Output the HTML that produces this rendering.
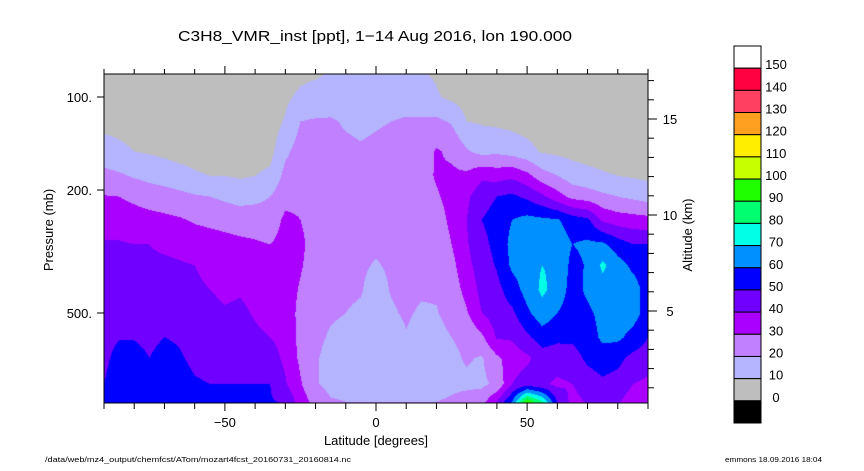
<!DOCTYPE html>
<html><head><meta charset="utf-8"><style>
html,body{margin:0;padding:0;background:#fff;}
#wrap{position:relative;width:864px;height:471px;overflow:hidden;}
canvas{position:absolute;left:104px;top:74px;}
svg{position:absolute;left:0;top:0;}
text{font-family:"Liberation Sans",sans-serif;fill:#000;}
</style></head><body>
<div id="wrap">
<canvas id="field" width="544" height="329"></canvas>
<svg id="svg" width="864" height="471">
<text x="375" y="41" font-size="15" text-anchor="middle" textLength="394" lengthAdjust="spacingAndGlyphs">C3H8_VMR_inst [ppt], 1−14 Aug 2016, lon 190.000</text>
<text transform="translate(53,230) rotate(-90)" font-size="13" text-anchor="middle">Pressure (mb)</text>
<text transform="translate(692,235) rotate(-90)" font-size="13" text-anchor="middle">Altitude (km)</text>
<text x="376" y="445" font-size="13" text-anchor="middle">Latitude [degrees]</text>
<text x="45" y="462" font-size="7.5" textLength="306" lengthAdjust="spacingAndGlyphs">/data/web/mz4_output/chemfcst/ATom/mozart4fcst_20160731_20160814.nc</text>
<text x="725" y="462" font-size="7.5" textLength="97" lengthAdjust="spacingAndGlyphs">emmons 18.09.2016 18:04</text>
<g id="axes"></g>
<g id="cbar"></g>
</svg>
</div>
<script>
// Grid data: latitudes, pressure levels (mb), values (ppt) rows = lat columns
const lats = [-90,-85,-80,-75,-70,-65,-60,-55,-50,-45,-40,-35,-30,-25,-20,-15,-10,-5,0,5,10,15,20,25,30,35,40,45,50,55,60,65,70,75,80,85,90];
const levels = [85,100,120,150,180,210,250,300,350,420,500,600,700,850,1000];
const values = [
[3,5,7,14,23,30.5,35,41,42,44,45,47,48,50,52],
[3,5,7,12,21.5,30,35,41,43,45,47,49.5,53,55,56],
[3,4,6,10,19,28,34,40,42,45,47,49.5,53,55,56],
[3,4,6,9,17,26,33,40,42,44,46,48,50,53,55],
[3,4,5,8,15,25,32,38,42,44,47,50,53,55,56],
[3,4,5,7,13,23,31,37,41,43,46,49,51,54,55],
[3,4,5,7,11,21,29,35,40,42,44,46,48,51,53],
[3,4,5,6,10,20,28,34,37,40,43,45,47,50,52],
[3,4,5,6,10,18,27,33,35,38,41,44,47,50,52],
[3,4,5,6,9,16,26,32,34,39,42,45,47,50,52],
[3,4,5,6,10,17,26,31,34,37,39,42,45,50,52],
[3,4,5,7,12,20,25,30,32,34,36,40,44,50,51],
[5,8,11,18,23,27,32,33,34,35,36,37,38,41,51],
[8,12,20,24,26,28,30,32,31,29,27,27,28,31,36],
[9,14,21,24,25,26,26,26,25,24,23,22,21,21,28],
[11,15,21,23,24,24,24,24,23,22,21,19,17,17,22],
[12,15,19,22,23,23,23,23,22,21,20,18,16,16,21],
[12,14,18,21,22,23,23,22,21,20.5,19,17,15,16,21],
[13,15,19,22,23,23,22,21,19.5,17,16,15,15,16,21],
[13,15,20,23,24,24,23,22,21,20.5,19,16,15,16,21],
[12,16,21,24,25,25,25,24,23,22,21,19.5,16,16,21],
[11,15,21,25,26,26,25,24,23,21,19,17,16,16,21],
[9,11,22,31,31,29,26,24,22,21,19.5,17,16,16,21],
[5,8,19,28,32,33,32,30,27,25,23,20,18,18,22],
[4,6,10,21,32,38,40,39,37,33,29,22,21,18,25],
[4,5,9,17,38,46,50,47,45,43,40,28,19,18,28],
[3,4,8,18,36,50,54,53,51,47,45,41,28,22,45],
[3,4,7,16,38,52,60,63,62,55,48,41,35,40,65],
[3,4,6,13,33,48,63,66,66,64,58,48,38,45,110],
[3,4,5,9,24,42,62,67,70,72,66,55,45,42,90],
[3,4,5,8,20,34,61,66,68,66,60,52,45,38,52],
[3,4,5,7,15,27,55,60,57,56,55,52,46,40,36],
[3,4,5,6,13,25,52,62,61,62,58,55,52,45,40],
[3,4,5,6,11,22,38,62,72,66,63,62,55,48,42],
[3,4,5,6,10,20,35,55,64,65,64,62,53,46,40],
[3,4,5,6,9,18,34,50,58,64,64,57,47,40,34],
[3,4,5,6,8,16,33,50,55,56,56,50,45,38,33]
];
const cbarLabels = ["150","140","130","120","110","100","90","80","70","60","50","40","30","20","10","0"];
const pTicks = [100,200,500];
const pTickLabels = ["100.","200.","500."];
const latTicks = [-50,0,50];
const altMajor = [5,10,15];

const bandColors = ["#000000","#bebebe","#b4b4ff","#c080ff","#aa00ff","#7000ff","#0000ff","#0090ff","#00ffe6","#00ff70","#20ff00","#c8ff00","#ffee00","#ffa020","#ff4060","#ff0040","#ffffff"];

const X0=104,X1=648,Y0=74,Y1=403;
function xOf(lat){return X0+(lat+90)/180*(X1-X0);}
function yOf(p){return 97+309*Math.log10(p/100);}
function altY(z){return 215-(z-10)*19.2;}
function colorFor(v){
  if(v<0) return bandColors[0];
  let i=Math.floor(v/10)+1; if(i>16)i=16; return bandColors[i];
}
function hex(c){return [parseInt(c.substr(1,2),16),parseInt(c.substr(3,2),16),parseInt(c.substr(5,2),16)];}

const cv=document.getElementById('field'),ctx=cv.getContext('2d');
const W=cv.width,H=cv.height,img=ctx.createImageData(W,H);
const rowY=levels.map(yOf);
for(let py=0;py<H;py++){
  const y=Y0+py+0.5;
  let r=0; while(r<rowY.length-2 && y>rowY[r+1]) r++;
  let ty=(y-rowY[r])/(rowY[r+1]-rowY[r]); ty=Math.max(0,Math.min(1,ty));
  for(let px=0;px<W;px++){
    const lat=-90+(px+0.5)/W*180;
    let c=Math.floor((lat+90)/5); if(c>lats.length-2)c=lats.length-2;
    const tx=(lat-lats[c])/(lats[c+1]-lats[c]);
    const a=values[c][r],b=values[c+1][r],d=values[c][r+1],e=values[c+1][r+1];
    const v=(a*(1-tx)+b*tx)*(1-ty)+(d*(1-tx)+e*tx)*ty;
    const rgb=hex(colorFor(v)); const k=(py*W+px)*4;
    img.data[k]=rgb[0];img.data[k+1]=rgb[1];img.data[k+2]=rgb[2];img.data[k+3]=255;
  }
}
ctx.putImageData(img,0,0);

const NS='http://www.w3.org/2000/svg';
function mk(tag,attrs,parent){const el=document.createElementNS(NS,tag);for(const k in attrs)el.setAttribute(k,attrs[k]);parent.appendChild(el);return el;}
const axes=document.getElementById('axes');
const frame=mk('rect',{x:X0,y:Y0,width:X1-X0,height:Y1-Y0,fill:'none',stroke:'#000','stroke-width':1},axes);


for(let lat=-90;lat<=90;lat+=10){
  const x=xOf(lat),maj=lat%50===0;
  const t1=mk('line',{x1:x,x2:x,y1:Y1,y2:Y1+(maj?8:6),stroke:'#000'},axes);
  
  
  const t2=mk('line',{x1:x,x2:x,y1:Y0,y2:Y0-(maj?8:5),stroke:'#000'},axes);
  
  
}
latTicks.forEach(l=>{
  const t=mk('text',{x:xOf(l),y:427,'font-size':13,'text-anchor':'middle'},axes);
  t.textContent=l<0?('−'+(-l)):String(l);
  
  
});
pTicks.forEach((p,i)=>{
  const y=yOf(p);
  const l=mk('line',{x1:X0-7,x2:X0,y1:y,y2:y,stroke:'#000'},axes);
  
  
  const t=mk('text',{x:92,y:y+5,'font-size':13,'text-anchor':'end'},axes);
  t.textContent=pTickLabels[i];
  
  
});
for(let z=1;z<=17;z++){
  const y=altY(z),maj=altMajor.indexOf(z)>=0;
  const l=mk('line',{x1:X1,x2:X1+(maj?9:6),y1:y,y2:y,stroke:'#000'},axes);
  
  
  if(maj){
    const t=mk('text',{x:670,y:y+5,'font-size':13,'text-anchor':'middle'},axes);
    t.textContent=String(z);
    
    
  }
}
const cb=document.getElementById('cbar');
const CB0=46,CB1=423,bh=(CB1-CB0)/17;
for(let i=0;i<17;i++){
  const r=mk('rect',{x:734,y:CB0+i*bh,width:27,height:bh,fill:bandColors[16-i],stroke:'#000','stroke-width':1},cb);
  
  
}
cbarLabels.forEach((s,i)=>{
  const t=mk('text',{x:776,y:CB0+(i+1)*bh+1,'font-size':13,'text-anchor':'middle'},cb);
  t.textContent=s;
  
  
});
</script>
</body></html>
